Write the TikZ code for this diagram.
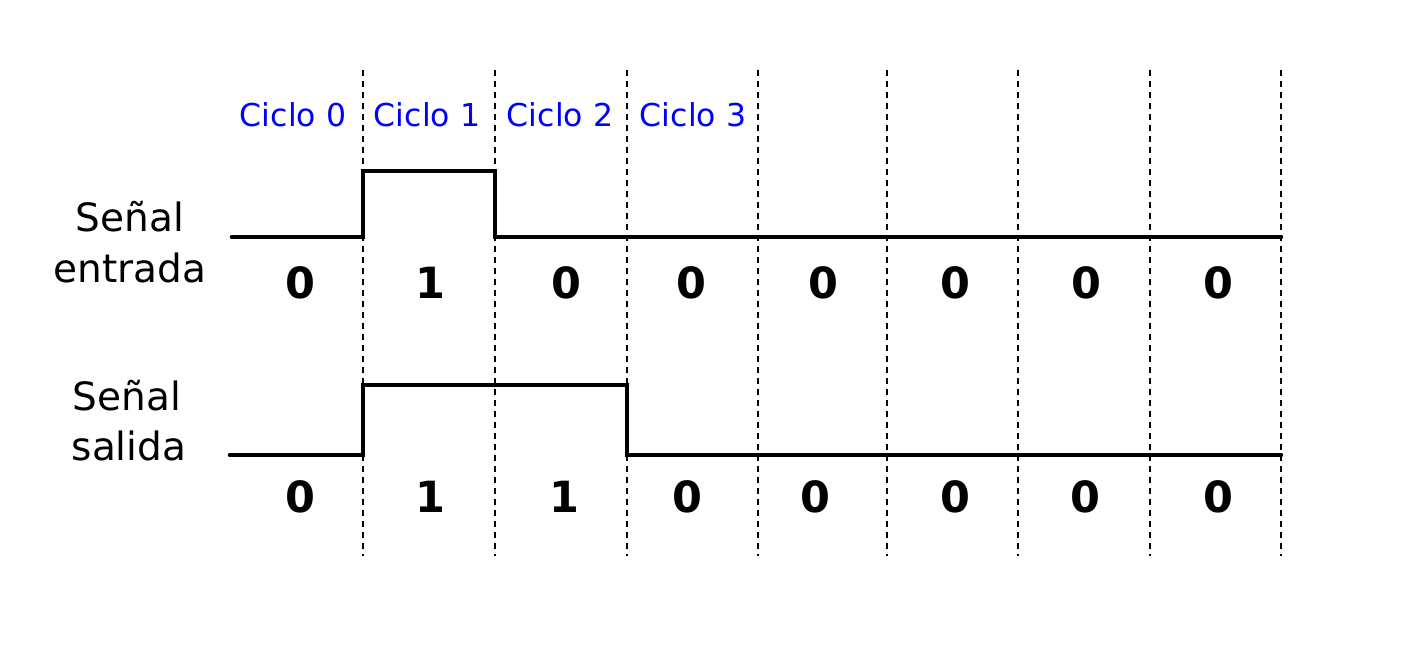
\documentclass[tikz,border=0pt]{standalone}
\usepackage{fontspec}
\setmainfont{DejaVu Sans}
\begin{document}
\begin{tikzpicture}[x=1pt,y=-1pt,
  grid/.style={line width=2pt,dash pattern=on 6pt off 5pt},
  sig/.style={line width=4.6pt,line cap=round,line join=miter},
  cyc/.style={anchor=base,inner sep=0pt,text=blue,font=\fontsize{31.5}{36}\selectfont},
  lab/.style={anchor=base,inner sep=0pt,font=\fontsize{39}{46}\selectfont},
  bit/.style={anchor=base,inner sep=0pt,font=\bfseries\fontsize{43}{50}\selectfont}]
\useasboundingbox (0,0) rectangle (1410,662);
% grid lines
\foreach \x [count=\i] in {363,495,627,758,887,1018,1150,1281}{
  \coordinate (t\i) at (\x,70);
  \coordinate (b\i) at (\x,556);
  \draw[grid] (t\i) -- (b\i);
}
% cycle labels
\node[cyc] (c0) at (293,126) {Ciclo 0};
\node[cyc] (c1) at (427,126) {Ciclo 1};
\node[cyc] (c2) at (560,126) {Ciclo 2};
\node[cyc] (c3) at (693,126) {Ciclo 3};
% signal labels
\node[lab] (in1) at (130,231) {Señal};
\node[lab] (in2) at (130,282) {entrada};
\node[lab] (out1) at (127,410) {Señal};
\node[lab] (out2) at (129,460) {salida};
% input signal
\draw[sig] (232,237) -- (363,237) -- (363,171) -- (495,171) -- (495,237) -- (1281,237);
% output signal
\draw[sig] (230,455) -- (363,455) -- (363,385) -- (627,385) -- (627,455) -- (1281,455);
% bits
\foreach \x/\v [count=\i] in {300/0,430/1,566/0,691/0,823/0,955/0,1086/0,1218/0}{
  \node[bit] (ib\i) at (\x,298) {\v};
}
\foreach \x/\v [count=\i] in {300/0,430/1,564/1,687/0,815/0,955/0,1085/0,1218/0}{
  \node[bit] (ob\i) at (\x,512) {\v};
}
\end{tikzpicture}
\end{document}
